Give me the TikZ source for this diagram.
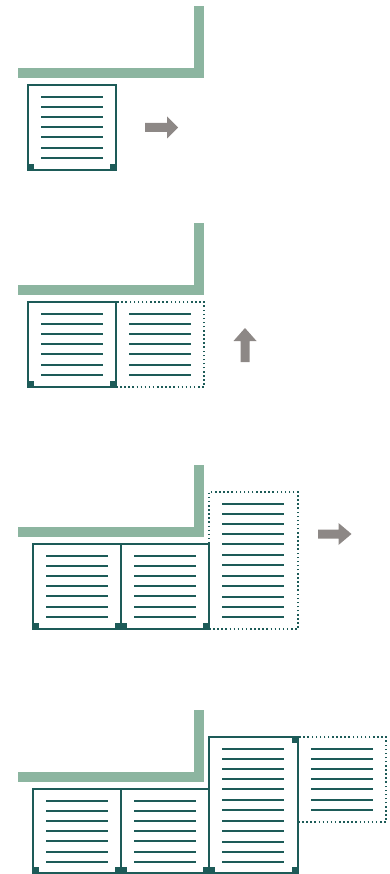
\documentclass[tikz,border=0pt]{standalone}
\usetikzlibrary{calc}
\definecolor{teal}{HTML}{1D5B58}
\definecolor{sage}{HTML}{8CB5A0}
\definecolor{arrowgray}{HTML}{8D8886}
\tikzset{
  pagebox/.style={draw=teal, line width=1.6pt, fill=white, rectangle, inner sep=0pt, outer sep=0pt},
  ghostbox/.style={draw=teal, line width=1.6pt, dash pattern=on 1.5pt off 2.6pt, rectangle, inner sep=0pt, outer sep=0pt},
  txtline/.style={draw=teal, line width=2pt},
  greenbar/.style={draw=sage, line width=10pt, line join=miter},
  corner/.style={fill=teal},
  bigarrow/.style={fill=arrowgray}
}
\newcommand\docpage[7]{%
  \node[#7, minimum width=#4pt, minimum height=#5pt, anchor=north west] (#1) at (#2,#3) {};
  \foreach \o [count=\i] in {12,22,32,42,52,63,73,84,94,105,115,125} {%
    \ifnum\i>#6\else\draw[txtline] ($(#1.north west)+(13,\o)$) -- ++(62,0);\fi}
}
\newcommand\cornerBL[1]{\fill[corner] (#1.south west) rectangle ++(6,-6);}
\newcommand\cornerBR[1]{\fill[corner] (#1.south east) rectangle ++(-6,-6);}
\newcommand\cornerTR[1]{\fill[corner] (#1.north east) rectangle ++(-6,6);}
\begin{document}
\begin{tikzpicture}[x=1pt,y=-1pt]
\useasboundingbox (0,0) rectangle (390,874);
% ---------- panel 1
\draw[greenbar] (18,73) -- (199,73) -- (199,6);
\docpage{pA}{28}{85}{88}{85}{7}{pagebox}
\cornerBL{pA}\cornerBR{pA}
\fill[bigarrow] (145,123) -- (167,123) -- (167,116.5) -- (178,127.5) -- (167,138.5) -- (167,132) -- (145,132) -- cycle;
% ---------- panel 2
\draw[greenbar] (18,290) -- (199,290) -- (199,223);
\docpage{qB}{116}{302}{88}{85}{7}{ghostbox}
\docpage{qA}{28}{302}{88}{85}{7}{pagebox}
\cornerBL{qA}\cornerBR{qA}
\fill[bigarrow] (245,328) -- (256.5,341) -- (249.5,341) -- (249.5,362) -- (240.5,362) -- (240.5,341) -- (233.5,341) -- cycle;
% ---------- panel 3
\draw[greenbar] (18,531.7) -- (199,531.7) -- (199,465);
\docpage{rC}{209}{492}{89}{137}{12}{ghostbox}
\docpage{rA}{33}{544}{88}{85}{7}{pagebox}
\docpage{rB}{121}{544}{88}{85}{7}{pagebox}
\cornerBL{rA}\cornerBR{rA}\cornerBL{rB}\cornerBR{rB}
\fill[bigarrow] (318,529.5) -- (338.5,529.5) -- (338.5,523) -- (351.5,534) -- (338.5,545) -- (338.5,538.5) -- (318,538.5) -- cycle;
% ---------- panel 4
\draw[greenbar] (18,776.7) -- (199,776.7) -- (199,710);
\docpage{sD}{298}{737}{88}{85}{7}{ghostbox}
\docpage{sA}{33}{789}{88}{84}{7}{pagebox}
\docpage{sB}{121}{789}{88}{84}{7}{pagebox}
\docpage{sC}{209}{737}{89}{136}{12}{pagebox}
\cornerBL{sA}\cornerBR{sA}\cornerBL{sB}\cornerBR{sB}
\cornerBL{sC}\cornerBR{sC}\cornerTR{sC}
\end{tikzpicture}
\end{document}
